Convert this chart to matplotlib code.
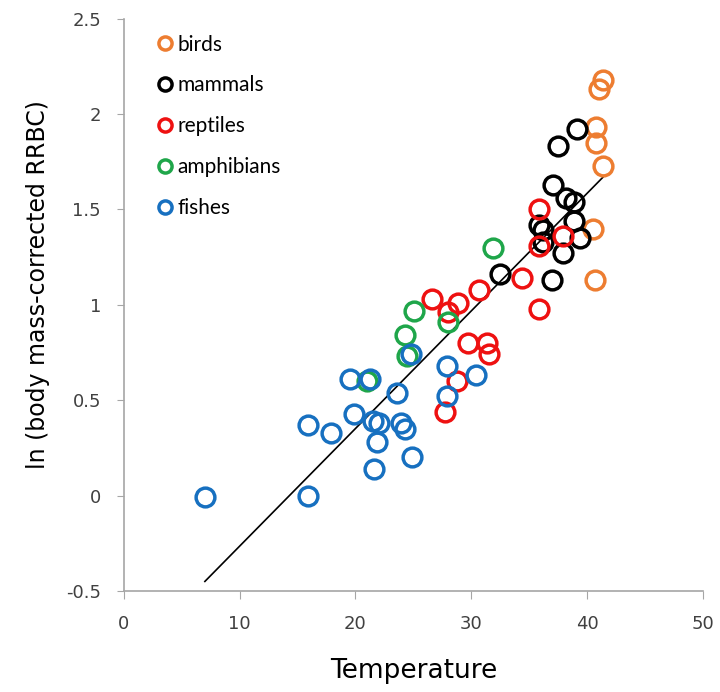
import matplotlib
matplotlib.use("Agg")
import matplotlib.pyplot as plt

# values
birds_x = [41.4, 41.0, 40.8, 40.8, 41.4, 40.5, 40.7]
birds_y = [2.18, 2.13, 1.93, 1.85, 1.73, 1.40, 1.13]

mammals_x = [39.1, 37.5, 37.1, 38.2, 38.9, 38.9, 39.4, 37.9, 35.9, 36.2, 36.2, 37.0, 32.5]
mammals_y = [1.92, 1.83, 1.63, 1.56, 1.54, 1.44, 1.35, 1.27, 1.42, 1.39, 1.33, 1.13, 1.16]

reptiles_x = [35.9, 35.9, 37.9, 34.4, 35.9, 30.7, 28.9, 26.6, 28.0, 29.7, 31.4, 31.5, 28.8, 27.7]
reptiles_y = [1.50, 1.31, 1.36, 1.14, 0.98, 1.08, 1.01, 1.03, 0.96, 0.80, 0.80, 0.74, 0.60, 0.44]

amphibians_x = [31.9, 25.1, 28.0, 24.3, 24.5, 21.0]
amphibians_y = [1.30, 0.97, 0.91, 0.84, 0.73, 0.60]

fishes_x = [7.0, 15.9, 15.9, 17.9, 19.5, 19.9, 21.3, 21.5, 22.0, 21.9, 21.6,
            23.6, 23.9, 24.3, 24.9, 24.8, 27.9, 27.9, 30.4]
fishes_y = [-0.01, 0.0, 0.37, 0.33, 0.61, 0.43, 0.61, 0.39, 0.38, 0.28, 0.14,
            0.54, 0.38, 0.35, 0.20, 0.74, 0.68, 0.52, 0.63]

# fitted line end points
fit_x = [7.0, 41.4]
fit_y = [-0.45, 1.67]

x_ticks = [0, 10, 20, 30, 40, 50]
y_ticks = [-0.5, 0, 0.5, 1, 1.5, 2, 2.5]


def main():
    fig = plt.figure(figsize=(7.2, 6.92), dpi=100)
    ax = fig.add_axes([0.172, 0.146, 0.804, 0.827])

    ax.plot(fit_x, fit_y, color='black', lw=1.2, zorder=1)

    series = [
        (birds_x, birds_y, '#ED7D31', 'birds'),
        (mammals_x, mammals_y, 'black', 'mammals'),
        (reptiles_x, reptiles_y, '#EE1111', 'reptiles'),
        (amphibians_x, amphibians_y, '#1FA64A', 'amphibians'),
        (fishes_x, fishes_y, '#1770C0', 'fishes'),
    ]
    for xs, ys, col, name in series:
        ax.plot(xs, ys, 'o', mfc='none', mec=col, ms=13.5, mew=2.5, label=name, zorder=2)

    ax.set_xlim(0, 50)
    ax.set_ylim(-0.5, 2.5)
    ax.set_xticks(x_ticks)
    ax.set_yticks(y_ticks)
    ax.set_yticklabels([f'{v:g}' for v in y_ticks])

    for s in ['top', 'right']:
        ax.spines[s].set_visible(False)
    for s in ['left', 'bottom']:
        ax.spines[s].set_color('#A6A6A6')
        ax.spines[s].set_linewidth(1.2)
    ax.tick_params(axis='x', direction='out', length=6, color='#A6A6A6',
                   labelcolor='#404040', labelsize=13, pad=11.5)
    ax.tick_params(axis='y', direction='out', length=5, color='#A6A6A6',
                   labelcolor='#404040', labelsize=13, pad=11.5)

    ax.set_xlabel('Temperature', fontsize=19, labelpad=18)
    ax.set_ylabel('ln (body mass-corrected RRBC)', fontsize=17)
    ax.yaxis.set_label_coords(-0.128, 0.535)

    ax.legend(loc='upper left', frameon=False, prop={'family': 'Lato', 'size': 15},
              markerscale=0.7, handlelength=0.6, handletextpad=0.3, labelspacing=1.0,
              bbox_to_anchor=(0.028, 1.005))

    fig.savefig('out.png', dpi=100)


if __name__ == "__main__":
    main()
